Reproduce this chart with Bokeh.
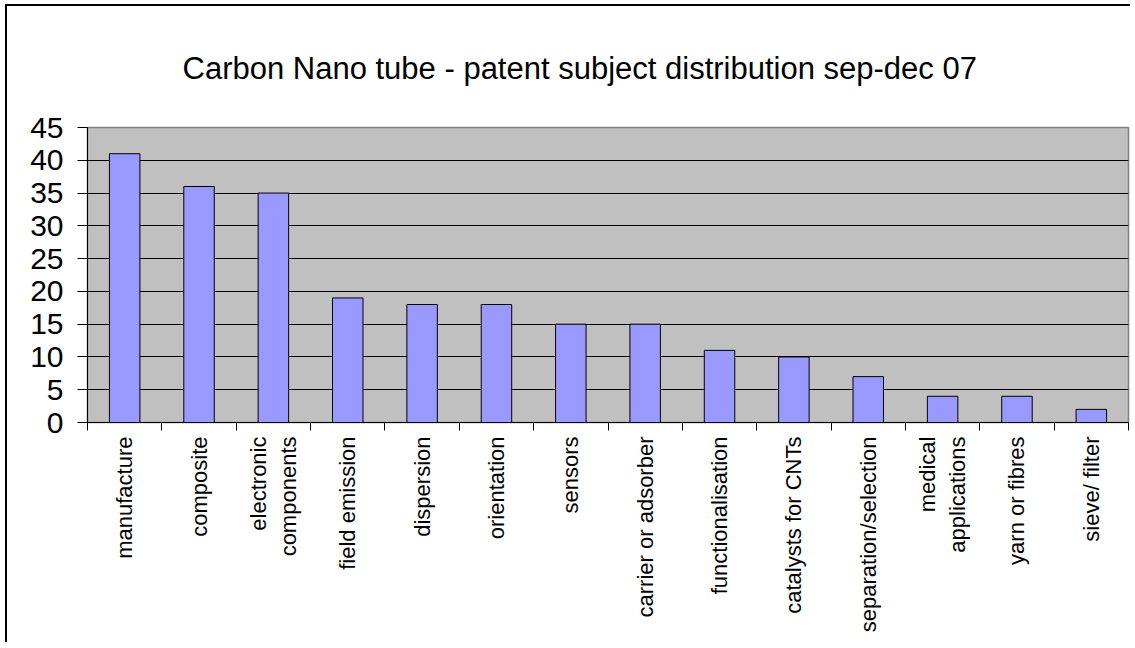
import math
from bokeh.plotting import figure
from bokeh.models import Range1d, LinearAxis, FixedTicker, ColumnDataSource, InlineStyleSheet
from bokeh.embed import file_html
from bokeh.resources import INLINE

title_text = "Carbon Nano tube - patent subject distribution sep-dec 07"
categories = ["manufacture", "composite", "electronic\ncomponents", "field emission",
              "dispersion", "orientation", "sensors", "carrier or adsorber",
              "functionalisation", "catalysts for CNTs", "separation/selection",
              "medical\napplications", "yarn or fibres", "sieve/ filter"]
counts = [41, 36, 35, 19, 18, 18, 15, 15, 11, 10, 7, 4, 4, 2]
y_ticks = [0, 5, 10, 15, 20, 25, 30, 35, 40, 45]

FONT = "Liberation Sans"
n = len(categories)
centers = [i + 0.5 for i in range(n)]      # category slot centres
boundaries = list(range(n + 1))            # category slot edges

chart_border = InlineStyleSheet(css=":host { margin-left: 5px; margin-top: 4px; "
                                    "border-left: 2px solid black; border-top: 2px solid black; }")

p = figure(x_range=Range1d(0, n), y_range=Range1d(0, 45),
           frame_width=1041, frame_height=295,
           output_backend="svg", toolbar_location=None,
           x_axis_location=None,
           min_border_left=80, min_border_top=121, min_border_right=2, min_border_bottom=220,
           background_fill_color="#C0C0C0", border_fill_color="white",
           outline_line_color="#808080", outline_line_width=1.5,
           stylesheets=[chart_border])

p.title.text = title_text
p.title.text_font = FONT
p.title.text_font_size = "31px"
p.title.text_font_style = "normal"
p.title.text_color = "black"
p.title.align = "left"
p.title.offset = 95
p.title.standoff = 84

source = ColumnDataSource(dict(x=centers, count=counts, cat=categories))
p.vbar(x="x", top="count", width=0.41, source=source,
       fill_color="#9999FF", line_color="black", line_width=1)

# y axis
yax = p.yaxis[0]
yax.ticker = FixedTicker(ticks=y_ticks)
yax.major_tick_out = 10
yax.major_tick_in = 0
yax.minor_tick_line_color = None
yax.axis_line_color = "black"
yax.major_tick_line_color = "black"
yax.major_label_text_font = FONT
yax.major_label_text_font_size = "30px"
yax.major_label_text_color = "black"
yax.major_label_standoff = 14

p.ygrid.ticker = FixedTicker(ticks=y_ticks)
p.ygrid.grid_line_color = "black"
p.ygrid.grid_line_width = 1
p.xgrid.visible = False

# x axis: labels at slot centres, (minor) tick marks at slot edges
xax = LinearAxis(ticker=FixedTicker(ticks=centers, minor_ticks=boundaries),
                 major_label_overrides={c: lab for c, lab in zip(centers, categories)},
                 major_tick_line_color=None, major_tick_out=0, major_tick_in=0,
                 minor_tick_line_color="black", minor_tick_out=8, minor_tick_in=0,
                 axis_line_color="black",
                 major_label_orientation=math.pi / 2,
                 major_label_text_font=FONT,
                 major_label_text_font_size="22px",
                 major_label_text_color="black",
                 major_label_standoff=6)
p.add_layout(xax, "below")

open("out.html", "w").write(file_html(p, INLINE))
